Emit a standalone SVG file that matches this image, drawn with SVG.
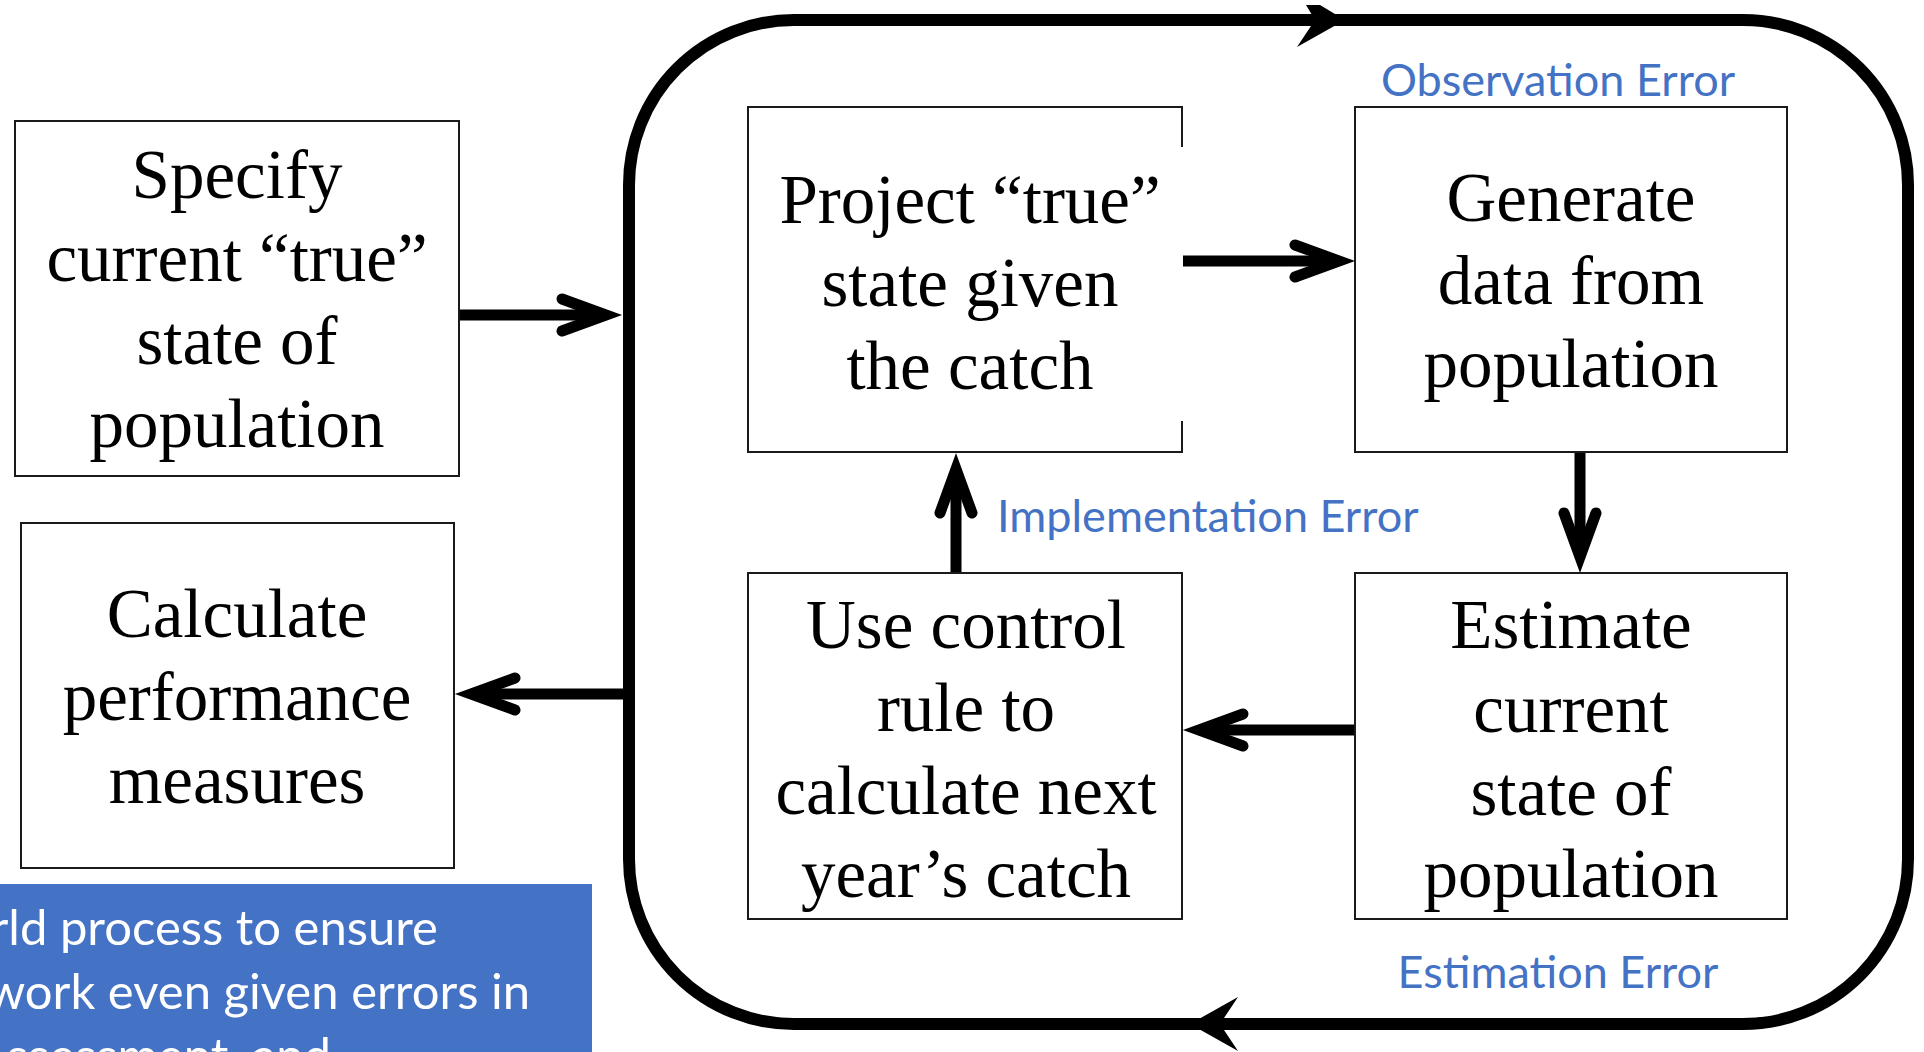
<svg xmlns="http://www.w3.org/2000/svg" width="1924" height="1052" viewBox="0 0 1924 1052">
  <defs>
    <style>
      .box { fill: #ffffff; stroke: #1a1a1a; stroke-width: 2; }
      .lbl { font-family: "Liberation Serif", "Times New Roman", serif; font-size: 69px; fill: #000000; text-anchor: middle; }
      .err { font-family: Lato, "Liberation Sans", sans-serif; font-size: 45px; fill: #4472C4; }
      .note { font-family: Lato, "Liberation Sans", sans-serif; font-size: 49px; fill: #ffffff; text-anchor: end; }
      .wire { fill: none; stroke: #000000; stroke-width: 11; }
      .loop { fill: none; stroke: #000000; stroke-width: 12; }
      .barb { fill: #000000; }
    </style>
    <!-- open chevron head; the miter of the join lands on the target edge -->
    <marker id="chev" markerUnits="userSpaceOnUse" viewBox="-60 -30 90 60" markerWidth="90" markerHeight="60" refX="0" refY="0" orient="auto" overflow="visible">
      <path d="M-44,-16 L0,0 L-44,16" fill="none" stroke="#000000" stroke-width="11" stroke-linecap="round" stroke-linejoin="miter"/>
    </marker>
  </defs>

  <rect width="1924" height="1052" fill="#ffffff"/>

  <!-- connectors -->
  <g id="connectors">
    <!-- simulation loop -->
    <rect class="loop" x="629" y="20" width="1279" height="1004" rx="165" ry="165"/>
    <polygon class="barb" points="1345,20 1320,5 1306,5 1315,20 1297,47"/>
    <polygon class="barb" points="1190,1024 1238,997 1220,1024 1238,1051"/>

    <path class="wire" d="M459,315 H606" marker-end="url(#chev)"/>
    <path class="wire" d="M623,694 H471" marker-end="url(#chev)"/>
    <path class="wire" d="M1183,261 H1339" marker-end="url(#chev)"/>
    <path class="wire" d="M1580,452 V557" marker-end="url(#chev)"/>
    <path class="wire" d="M1355,730 H1199" marker-end="url(#chev)"/>
    <path class="wire" d="M956,573 V469" marker-end="url(#chev)"/>
  </g>

  <!-- tspans are kept on one line so no collapsed space widens a centred line -->
  <g id="specify">
    <rect class="box" x="15" y="121" width="444" height="355"/>
    <text class="lbl"><tspan x="237" y="198">Specify</tspan><tspan x="237" y="281">current “true”</tspan><tspan x="237" y="364">state of</tspan><tspan x="237" y="447">population</tspan></text>
  </g>

  <g id="performance">
    <rect class="box" x="21" y="523" width="433" height="345"/>
    <text class="lbl"><tspan x="237" y="637">Calculate</tspan><tspan x="237" y="720">performance</tspan><tspan x="237" y="803">measures</tspan></text>
  </g>

  <g id="project">
    <path class="box" d="M1182,147 V107 H748 V452 H1182 V421"/>
    <text class="lbl"><tspan x="970" y="223">Project “true”</tspan><tspan x="970" y="306">state given</tspan><tspan x="970" y="389">the catch</tspan></text>
  </g>

  <g id="generate">
    <rect class="box" x="1355" y="107" width="432" height="345"/>
    <text class="lbl"><tspan x="1571" y="221">Generate</tspan><tspan x="1571" y="304">data from</tspan><tspan x="1571" y="387">population</tspan></text>
  </g>

  <g id="control-rule">
    <rect class="box" x="748" y="573" width="434" height="346"/>
    <text class="lbl"><tspan x="966" y="648">Use control</tspan><tspan x="966" y="731">rule to</tspan><tspan x="966" y="814">calculate next</tspan><tspan x="966" y="897">year’s catch</tspan></text>
  </g>

  <g id="estimate">
    <rect class="box" x="1355" y="573" width="432" height="346"/>
    <text class="lbl"><tspan x="1571" y="648">Estimate</tspan><tspan x="1571" y="732">current</tspan><tspan x="1571" y="815">state of</tspan><tspan x="1571" y="897">population</tspan></text>
  </g>

  <g id="error-labels">
    <text class="err" x="1558" y="96" text-anchor="middle">Observation Error</text>
    <text class="err" x="997" y="532">Implementation Error</text>
    <text class="err" x="1558" y="988" text-anchor="middle">Estimation Error</text>
  </g>

  <g id="note">
    <rect x="0" y="884" width="592" height="168" fill="#4472C4"/>
    <text class="note"><tspan x="438" y="945">rld process to ensure</tspan><tspan x="530" y="1009">work even given errors in</tspan><tspan x="331" y="1073">ssessment, and</tspan></text>
  </g>
</svg>
